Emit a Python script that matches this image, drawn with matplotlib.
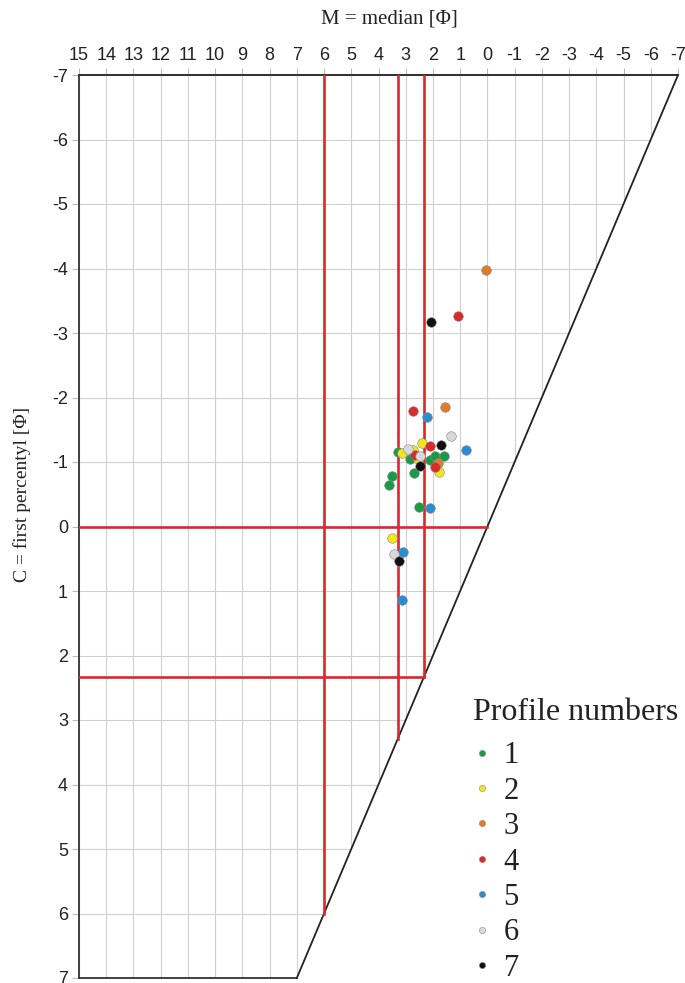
import matplotlib
matplotlib.use('Agg')
import matplotlib.pyplot as plt
from matplotlib.patches import Polygon
from matplotlib.lines import Line2D
import numpy as np

plt.rcParams['axes.unicode_minus'] = False

# CM diagram data: (M median, C first percentile) in phi, per profile
profiles = ['1', '2', '3', '4', '5', '6', '7']
colors = ['#1a9a46', '#f4e61e', '#e27a2a', '#d92a2c', '#2a8dcf', '#d9d9d9', '#111111']

m1 = [3.28, 2.86, 2.11, 1.92, 1.59, 2.70, 3.49, 3.63, 2.51]
c1 = [-1.15, -1.04, -1.03, -1.09, -1.10, -0.83, -0.78, -0.65, -0.30]
m2 = [2.42, 2.73, 3.14, 2.56, 1.76, 3.51]
c2 = [-1.29, -1.19, -1.14, -1.05, -0.84, 0.18]
m3 = [0.07, 1.54, 1.81]
c3 = [-3.98, -1.85, -0.98]
m4 = [1.07, 2.72, 2.12, 2.67, 1.92]
c4 = [-3.26, -1.79, -1.25, -1.11, -0.92]
m5 = [2.21, 0.80, 2.12, 3.10, 3.14]
c5 = [-1.70, -1.18, -0.29, 0.40, 1.14]
m6 = [1.32, 2.93, 2.46, 3.43]
c6 = [-1.40, -1.20, -1.10, 0.42]
m7 = [2.06, 1.72, 2.46, 3.26]
c7 = [-3.17, -1.27, -0.94, 0.53]

M_all = [m1, m2, m3, m4, m5, m6, m7]
C_all = [c1, c2, c3, c4, c5, c6, c7]

# diagram outline and red boundary values
outline_m = [15, -7, 7, 15]
outline_c = [-7, -7, 7, 7]
m_lines = [6, 3.3, 2.33]
c_lines = [0, 2.33]

fig = plt.figure(figsize=(6.85, 9.83), dpi=100)
ax = fig.add_axes([79/685, 5/983, 599/685, 903/983])
ax.set_xlim(15, -7)
ax.set_ylim(7, -7)
for s in ax.spines.values():
    s.set_visible(False)

# polygon used to clip the grid
poly = Polygon(list(zip(outline_m, outline_c)), closed=True, transform=ax.transData,
               facecolor='none', edgecolor='none')
ax.add_patch(poly)

ticks = np.arange(-7, 16)
for t in ticks:
    ln, = ax.plot([t, t], [-7, 7], color='#cfcfcf', lw=0.8, zorder=1)
    ln.set_clip_path(poly)
for t in np.arange(-7, 8):
    ln, = ax.plot([-7, 15], [t, t], color='#cfcfcf', lw=0.8, zorder=1)
    ln.set_clip_path(poly)

ax.xaxis.tick_top()
ax.set_xticks(ticks)
ax.set_xticklabels([str(t) for t in ticks])
ax.set_yticks(np.arange(-7, 8))
ax.tick_params(axis='both', length=5, width=0.8, color='#bbbbbb', labelsize=13,
               labelcolor='#222222', pad=3)
for lab in ax.get_xticklabels() + ax.get_yticklabels():
    lab.set_family('Liberation Sans')

# outline
ax.plot([15, 15, 7, -7, 15], [7, -7, -7, -7, -7], color='#333333', lw=1.3,
        clip_on=False, zorder=3)
ax.plot([15, 7], [7, 7], color='#333333', lw=1.3, clip_on=False, zorder=3)
ax.plot([7, -7], [7, -7], color='#222222', lw=1.3, clip_on=False, zorder=3)

# red lines
red = '#d9282e'
for m in m_lines:
    ax.plot([m, m], [-7, m], color=red, lw=1.9, zorder=4)
ax.plot([15, c_lines[0]], [c_lines[0], c_lines[0]], color=red, lw=1.9, zorder=4)
ax.plot([15, c_lines[1]], [c_lines[1], c_lines[1]], color=red, lw=1.9, zorder=4)

for i in range(len(profiles)):
    ax.scatter(M_all[i], C_all[i], s=48, color=colors[i], edgecolors='#888888',
               linewidths=0.4, zorder=5)

fig.text(0.569, 0.981, 'M = median [\u03a6]', family='Liberation Serif', fontsize=15,
         ha='center', va='center', color='#222222')
fig.text(0.032, 0.497, 'C = first percentyl [\u03a6]', family='Liberation Serif', fontsize=14,
         ha='center', va='center', rotation=90, color='#222222')

fig.text(473/685, 1 - 713/983, 'Profile numbers', family='Liberation Serif', fontsize=23,
         ha='left', va='center', color='#222222')
handles = [Line2D([], [], ls='none', marker='o', markersize=4.5, markerfacecolor=colors[i],
                  markeredgecolor='#888888', markeredgewidth=0.4) for i in range(len(profiles))]
leg = fig.legend(handles, profiles, loc='center left', bbox_to_anchor=(473/685, 1 - 862/983),
                 frameon=False, prop={'family': 'Liberation Serif', 'size': 22},
                 handlelength=0.6, handletextpad=0.4, labelspacing=0.21,
                 borderpad=0, borderaxespad=0)
for t in leg.get_texts():
    t.set_color('#222222')

plt.savefig('out.png', dpi=100)
